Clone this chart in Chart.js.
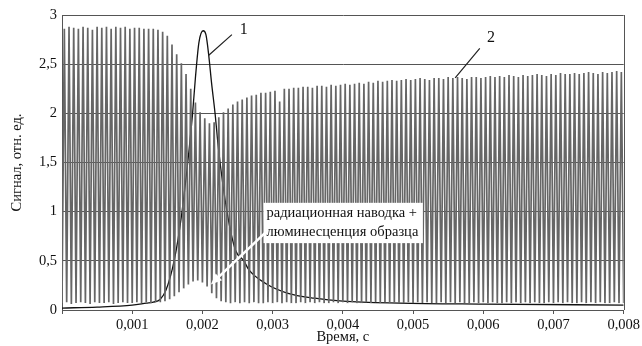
<!DOCTYPE html>
<html>
<head>
<meta charset="utf-8">
<script src="https://cdn.jsdelivr.net/npm/chart.js@4/dist/chart.umd.min.js"></script>
<style>
  html, body { margin: 0; padding: 0; background: #fff; }
  #wrap { width: 642px; height: 346px; }
</style>
</head>
<body>
<div id="wrap"><canvas id="signalChart"></canvas></div>
<script>
// Ось времени, с
const timeMax = 0.008;
const cycleCount = 120;
const xTicks = [0, 0.001, 0.002, 0.003, 0.004, 0.005, 0.006, 0.007, 0.008];
const yTicks = [0, 0.5, 1, 1.5, 2, 2.5, 3];

// Кривая 2: вершины импульсов (по одной на период)
const peakValues = [
  2.86, 2.88, 2.87, 2.86, 2.88, 2.87, 2.85, 2.88, 2.87, 2.88,
  2.86, 2.88, 2.87, 2.88, 2.86, 2.87, 2.87, 2.86, 2.86, 2.86,
  2.85, 2.83, 2.79, 2.70, 2.60, 2.51, 2.40, 2.25, 2.11, 2.01,
  1.95, 1.90, 1.91, 1.96, 2.01, 2.05, 2.09, 2.12, 2.14, 2.16,
  2.18, 2.19, 2.21, 2.21, 2.22, 2.23, 2.12, 2.25, 2.25, 2.26,
  2.26, 2.27, 2.27, 2.26, 2.28, 2.28, 2.27, 2.29, 2.28, 2.29,
  2.30, 2.29, 2.30, 2.31, 2.30, 2.32, 2.31, 2.33, 2.32, 2.33,
  2.34, 2.33, 2.34, 2.35, 2.34, 2.35, 2.36, 2.35, 2.34, 2.36,
  2.36, 2.35, 2.37, 2.36, 2.37, 2.36, 2.35, 2.37, 2.37, 2.36,
  2.37, 2.38, 2.37, 2.38, 2.37, 2.39, 2.38, 2.37, 2.39, 2.38,
  2.39, 2.40, 2.39, 2.38, 2.40, 2.39, 2.41, 2.40, 2.40, 2.41,
  2.40, 2.41, 2.42, 2.41, 2.40, 2.42, 2.41, 2.42, 2.43, 2.42
];

// Кривая 2: минимумы между импульсами (наводка + люминесценция около 0,002 с)
const troughValues = [
  0.07, 0.08, 0.06, 0.07, 0.08, 0.07, 0.06, 0.08, 0.07, 0.07,
  0.08, 0.06, 0.07, 0.08, 0.07, 0.07, 0.08, 0.07, 0.08, 0.07,
  0.08, 0.08, 0.09, 0.11, 0.14, 0.18, 0.22, 0.26, 0.29, 0.30,
  0.28, 0.24, 0.17, 0.12, 0.09, 0.08, 0.07, 0.08, 0.07, 0.08,
  0.07, 0.08, 0.07, 0.07, 0.08, 0.07, 0.08, 0.07, 0.08, 0.07,
  0.07, 0.08, 0.07, 0.08, 0.07, 0.08, 0.07, 0.07, 0.08, 0.07,
  0.08, 0.07, 0.08, 0.07, 0.07, 0.08, 0.07, 0.08, 0.07, 0.08,
  0.07, 0.08, 0.07, 0.07, 0.08, 0.07, 0.08, 0.07, 0.08, 0.07,
  0.07, 0.08, 0.07, 0.08, 0.07, 0.08, 0.07, 0.07, 0.08, 0.07,
  0.08, 0.07, 0.08, 0.07, 0.07, 0.08, 0.07, 0.08, 0.07, 0.08,
  0.07, 0.08, 0.07, 0.07, 0.08, 0.07, 0.08, 0.07, 0.08, 0.07,
  0.07, 0.08, 0.07, 0.08, 0.07, 0.08, 0.07, 0.07, 0.08, 0.07,
  0.07
];

// Кривая 1: импульс
const pulseTimes = [
  0, 0.0005, 0.001, 0.0012, 0.0013, 0.0014, 0.00148, 0.0016, 0.0017,
  0.00181, 0.00186, 0.0019, 0.00195, 0.00201, 0.00205, 0.00209, 0.00213,
  0.00218, 0.00223, 0.00235, 0.00247, 0.00259, 0.00266, 0.0029, 0.00322,
  0.0036, 0.004, 0.0048, 0.006, 0.008
];
const pulseValues = [
  0.02, 0.03, 0.05, 0.07, 0.08, 0.11, 0.2, 0.51, 0.95,
  1.63, 2.0, 2.36, 2.72, 2.84, 2.8, 2.59, 2.31,
  2.0, 1.63, 1.0, 0.61, 0.5, 0.41, 0.27, 0.17,
  0.12, 0.09, 0.07, 0.06, 0.05
];

const period = timeMax / cycleCount;
const signalPoints = [];
for (let i = 0; i < cycleCount; i++) {
  signalPoints.push({ x: i * period, y: troughValues[i] });
  signalPoints.push({ x: (i + 0.5) * period, y: peakValues[i] });
}
signalPoints.push({ x: cycleCount * period, y: troughValues[cycleCount] });

const pulsePoints = pulseTimes.map((t, i) => ({ x: t, y: pulseValues[i] }));

const fmt = v => String(+v.toFixed(3)).replace('.', ',');
const serif = '"Liberation Serif", "DejaVu Serif", serif';

// Подписи, стрелка и рамка области
const annotations = {
  id: 'annotations',
  afterDatasetsDraw(chart) {
    const { ctx, chartArea: a, scales: { x, y } } = chart;
    ctx.save();
    // правая граница
    ctx.strokeStyle = '#555';
    ctx.lineWidth = 1;
    ctx.beginPath();
    ctx.moveTo(Math.round(a.right) + 0.5, a.top);
    ctx.lineTo(Math.round(a.right) + 0.5, a.bottom);
    ctx.stroke();

    // выноски 1 и 2
    ctx.strokeStyle = '#222';
    ctx.lineWidth = 1.2;
    ctx.beginPath();
    ctx.moveTo(x.getPixelForValue(0.00209), y.getPixelForValue(2.59));
    ctx.lineTo(x.getPixelForValue(0.00242), y.getPixelForValue(2.80));
    ctx.moveTo(x.getPixelForValue(0.0056), y.getPixelForValue(2.36));
    ctx.lineTo(x.getPixelForValue(0.00595), y.getPixelForValue(2.66));
    ctx.stroke();
    ctx.fillStyle = '#111';
    ctx.font = '16px ' + serif;
    ctx.textAlign = 'center';
    ctx.textBaseline = 'middle';
    ctx.fillText('1', x.getPixelForValue(0.00259), y.getPixelForValue(2.85));
    ctx.fillText('2', x.getPixelForValue(0.00611), y.getPixelForValue(2.77));

    // рамка с текстом
    const bx0 = x.getPixelForValue(0.00287), bx1 = x.getPixelForValue(0.00514);
    const by0 = y.getPixelForValue(1.09), by1 = y.getPixelForValue(0.68);
    ctx.fillStyle = '#fff';
    ctx.fillRect(bx0, by0, bx1 - bx0, by1 - by0);

    // белая стрелка
    const tx = x.getPixelForValue(0.0029), ty = y.getPixelForValue(0.79);
    const hx = x.getPixelForValue(0.00212), hy = y.getPixelForValue(0.26);
    const ang = Math.atan2(hy - ty, hx - tx);
    ctx.strokeStyle = '#fff';
    ctx.lineWidth = 2.5;
    ctx.beginPath();
    ctx.moveTo(tx, ty);
    ctx.lineTo(hx - 8 * Math.cos(ang), hy - 8 * Math.sin(ang));
    ctx.stroke();
    ctx.fillStyle = '#fff';
    ctx.beginPath();
    ctx.moveTo(hx, hy);
    ctx.lineTo(hx - 12 * Math.cos(ang - 0.4), hy - 12 * Math.sin(ang - 0.4));
    ctx.lineTo(hx - 12 * Math.cos(ang + 0.4), hy - 12 * Math.sin(ang + 0.4));
    ctx.closePath();
    ctx.fill();

    ctx.fillStyle = '#111';
    ctx.font = '14.5px ' + serif;
    ctx.textAlign = 'left';
    ctx.textBaseline = 'middle';
    ctx.fillText('радиационная наводка +', bx0 + 3, by0 + 10);
    ctx.fillText('люминесценция образца', bx0 + 3, by0 + 29);
    ctx.restore();
  }
};

new Chart(document.getElementById('signalChart'), {
  type: 'line',
  data: {
    datasets: [
      {
        label: '2',
        data: signalPoints,
        borderColor: '#666',
        borderWidth: 1.7,
        pointRadius: 0,
        tension: 0
      },
      {
        label: '1',
        data: pulsePoints,
        borderColor: '#111',
        borderWidth: 1.3,
        pointRadius: 0,
        cubicInterpolationMode: 'monotone'
      }
    ]
  },
  options: {
    responsive: true,
    maintainAspectRatio: false,
    animation: false,
    layout: { padding: { top: 15, right: 14, left: 0, bottom: 0 } },
    plugins: { legend: { display: false }, tooltip: { enabled: false } },
    scales: {
      x: {
        type: 'linear',
        min: 0,
        max: timeMax,
        afterBuildTicks: s => { s.ticks = xTicks.map(v => ({ value: v })); },
        afterFit: s => { s.height = 36; },
        ticks: {
          callback: v => (v === 0 ? '' : fmt(v)),
          color: '#111',
          font: { family: serif, size: 14.5 },
          padding: 2,
          maxRotation: 0
        },
        grid: { drawOnChartArea: false, drawTicks: true, tickLength: 4, color: '#555' },
        border: { color: '#555' },
        title: {
          display: true,
          text: 'Время, с',
          color: '#111',
          font: { family: serif, size: 14.5 },
          padding: { top: 0, bottom: 0 }
        }
      },
      y: {
        min: 0,
        max: 3,
        afterBuildTicks: s => { s.ticks = yTicks.map(v => ({ value: v })); },
        afterFit: s => { s.width = 62; },
        ticks: {
          callback: v => fmt(v),
          color: '#111',
          font: { family: serif, size: 14.5 },
          padding: 5
        },
        grid: { color: '#555', drawTicks: false },
        border: { color: '#555' },
        title: {
          display: true,
          text: 'Сигнал, отн. ед.',
          color: '#111',
          font: { family: serif, size: 14.5 },
          padding: { top: 8, bottom: 0 }
        }
      }
    }
  },
  plugins: [annotations]
});
</script>
</body>
</html>
